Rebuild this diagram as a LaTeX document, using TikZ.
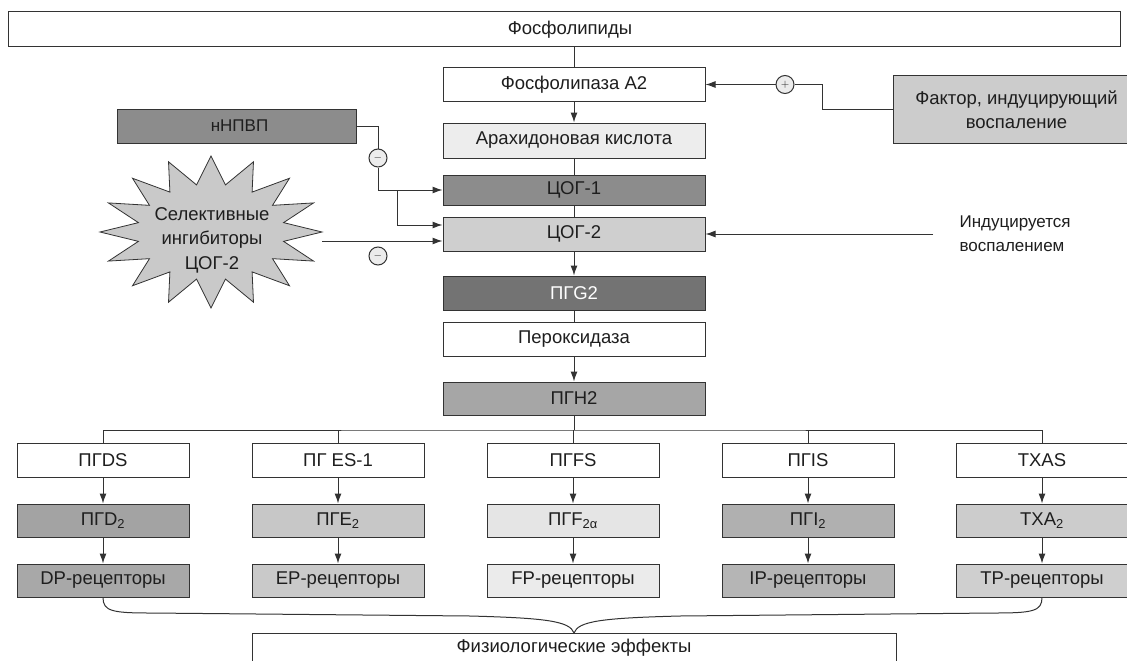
\documentclass[tikz,border=0pt]{standalone}
\usepackage{fontspec}
\setmainfont{Liberation Sans}
\usetikzlibrary{arrows.meta}
\definecolor{ln}{HTML}{333333}
\definecolor{tx}{HTML}{1E1E1E}
\begin{document}
\begin{tikzpicture}[x=1pt,y=-1pt,
  every node/.style={text=tx},
  box/.style={draw=ln, line width=1pt, inner sep=0pt, font=\fontsize{18.5}{21}\selectfont},
  lnk/.style={draw=ln, line width=1pt},
  arr/.style={lnk, -{Latex[length=10pt,width=7pt]}},
  sgn/.style={circle, draw=ln, line width=1pt, fill=gray!15, minimum size=18pt, inner sep=0pt, font=\fontsize{11}{11}\selectfont}
]
\useasboundingbox (0,0) rectangle (1127,661);
\clip (0,0) rectangle (1127,661);
\fill[white] (0,0) rectangle (1127,661);

% top
\node[box, fill=white, minimum width=1112pt, minimum height=35pt] (fosf) at (564,29.5) {\hspace{12pt}Фосфолипиды};

% main column
\node[box, fill=white, minimum width=262pt, minimum height=33pt] (pla) at (574,84.5) {Фосфолипаза А2};
\node[box, fill=gray!14, minimum width=262pt, minimum height=35pt] (aa) at (574,140.5) {Арахидоновая кислота};
\node[box, fill=black!45, minimum width=262pt, minimum height=30pt] (cox1) at (574,190) {ЦОГ-1};
\node[box, fill=gray!38, minimum width=262pt, minimum height=34pt] (cox2) at (574,234) {ЦОГ-2};
\node[box, fill=black!55, text=white, minimum width=262pt, minimum height=34pt] (pgg2) at (574,293) {ПГG2};
\node[box, fill=white, minimum width=262pt, minimum height=34pt] (perox) at (574,339) {Пероксидаза};
\node[box, fill=black!35, minimum width=262pt, minimum height=33pt] (pgh2) at (574,398.5) {ПГН2};

% left: nNSAID
\node[box, fill=black!45, minimum width=239pt, minimum height=34pt, font=\fontsize{17}{20}\selectfont] (nsaid) at (236.5,126) {\hspace{6pt}нНПВП};
\node[sgn] (m1) at (378,158) {$-$};
\node[sgn] (m2) at (378,256) {$-$};

% star
\fill[gray!42, draw=ln, line width=0.8pt]
  plot[samples at={0,...,31}, variable=\k]
   ({211+(mod(\k,2)==0 ? 111 : 74)*cos(\k*11.25)}, {232+(mod(\k,2)==0 ? 76 : 48)*sin(\k*11.25)}) -- cycle;
\node[align=center, font=\fontsize{18.5}{24.5}\selectfont] (star) at (212,240) {Селективные\\ингибиторы\\ЦОГ-2};
\coordinate (startip) at (322,241);

% right: factor
\node[box, fill=gray!40, minimum width=247pt, minimum height=67pt, align=center, font=\fontsize{18.5}{24}\selectfont] (factor) at (1016.5,109.5) {Фактор, индуцирующий\\воспаление};
\node[sgn] (plus) at (785,84.5) {$+$};
\coordinate (fk) at (822,84.5);

\node[anchor=west, align=left, font=\fontsize{17}{24}\selectfont] (ind) at (956,234) {Индуцируется\\воспалением};
\coordinate (indtail) at (933,234);

% rows
\foreach \n/\x/\a in {ds/103/ПГDS, es/338/ПГ ES-1, fs/573/ПГFS, is/808/ПГIS, tx/1042/TXAS}{
  \node[box, fill=white, minimum width=172pt, minimum height=34pt] (\n) at (\x,460) {\a};
}
\node[box, fill=black!36, minimum width=172pt, minimum height=33pt] (d2) at (103,520.5) {ПГD\textsubscript{2}};
\node[box, fill=black!22, minimum width=172pt, minimum height=33pt] (e2) at (338,520.5) {ПГE\textsubscript{2}};
\node[box, fill=black!10, minimum width=172pt, minimum height=33pt] (f2) at (573,520.5) {ПГF\textsubscript{2α}};
\node[box, fill=black!31, minimum width=172pt, minimum height=33pt] (i2) at (808,520.5) {ПГI\textsubscript{2}};
\node[box, fill=black!20, minimum width=172pt, minimum height=33pt] (t2) at (1042,520.5) {TXA\textsubscript{2}};

\node[box, fill=black!34, minimum width=172pt, minimum height=33pt] (dp) at (103,580.5) {DP-рецепторы};
\node[box, fill=black!21, minimum width=172pt, minimum height=33pt] (ep) at (338,580.5) {EP-рецепторы};
\node[box, fill=black!8, minimum width=172pt, minimum height=33pt] (fp) at (573,580.5) {FP-рецепторы};
\node[box, fill=black!29, minimum width=172pt, minimum height=33pt] (ip) at (808,580.5) {IP-рецепторы};
\node[box, fill=black!19, minimum width=172pt, minimum height=33pt] (tp) at (1042,580.5) {TP-рецепторы};

% physiological effects
\draw[lnk, fill=white] (252,680) -- (252,633) -- (896,633) -- (896,680);
\node[font=\fontsize{18.5}{21}\selectfont] (phys) at (574,648) {Физиологические эффекты};
\coordinate (apex) at (574,633);

% main connectors
\draw[lnk] (pla.north |- fosf.south) -- (pla.north);
\draw[arr] (pla) -- (aa);
\draw[lnk] (aa) -- (cox1);
\draw[lnk] (cox1) -- (cox2);
\draw[arr] (cox2) -- (pgg2);
\draw[lnk] (pgg2) -- (perox);
\draw[arr] (perox) -- (pgh2);
\coordinate (bus) at (574,430);
\draw[lnk] (pgh2.south) -- (bus);
\draw[lnk] (ds.north) |- (bus) -| (tx.north);
\draw[lnk] (es.north) -- (es.north |- bus);
\draw[lnk] (fs.north) -- (fs.north |- bus);
\draw[lnk] (is.north) -- (is.north |- bus);

\foreach \a/\b/\c in {ds/d2/dp, es/e2/ep, fs/f2/fp, is/i2/ip, tx/t2/tp}{
  \draw[arr] (\a) -- (\b);
  \draw[arr] (\b) -- (\c);
}

% brace
\draw[lnk] (dp.south) .. controls (103,611) and (112,613) .. (150,613) -- (470,616) .. controls (545,618) and (570,621) .. (apex);
\draw[lnk] (tp.south) .. controls (1042,611) and (1033,613) .. (995,613) -- (680,616) .. controls (603,618) and (578,621) .. (apex);

% factor link
\draw[lnk] (factor.west) -| (fk) -- (plus);
\draw[arr] (plus) -- (pla.east);

% nsaid links
\draw[lnk] (nsaid.east) -| (m1);
\draw[arr] (m1) |- (cox1.west);
\coordinate (br) at (397,190);
\draw[arr] (br) |- ([yshift=9pt]cox2.west);
\draw[arr] (startip) -- ([yshift=-7pt]cox2.west);

% induced
\draw[arr] (indtail) -- (cox2.east);
\end{tikzpicture}
\end{document}
